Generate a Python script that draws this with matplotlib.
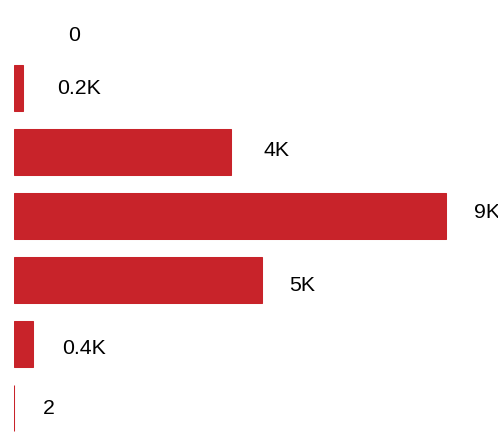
import matplotlib.pyplot as plt

categories = ["a", "b", "c", "d", "e", "f", "g"]
values = [0, 203, 4420, 8800, 5050, 406, 2]
labels = ["0", "0.2K", "4K", "9K", "5K", "0.4K", "2"]

# label offsets in pixels (dx from bar end, dy downward)
label_dx = [55, 34, 33, 28, 27, 29, 29]
label_dy = [11, 0, -1.5, -3.5, 5.5, 4.5, 0]

fig = plt.figure(figsize=(4.98, 4.34), dpi=100)
fig.patch.set_facecolor('white')
ax = fig.add_axes([13.5 / 498, 0, 1 - 13.5 / 498, 1])

pos = list(range(len(categories)))
# thin outline so tiny values still show as a sliver
edge_w = [0 if v == 0 else 0.75 for v in values]
ax.barh(pos, values, height=0.72, color='#c8232a',
        edgecolor='#c8232a', linewidth=edge_w)

ax.set_xlim(0, 9850)
ax.set_ylim(6.406, -0.375)
ax.axis('off')

for p, v, lab, dx, dy in zip(pos, values, labels, label_dx, label_dy):
    ax.annotate(lab, xy=(v, p), xytext=(dx * 0.72, -dy * 0.72),
                textcoords='offset points', ha='left', va='center',
                fontsize=15.3, family='Liberation Sans', color='black',
                annotation_clip=False)

fig.savefig('out.png', dpi=100)
plt.close()
